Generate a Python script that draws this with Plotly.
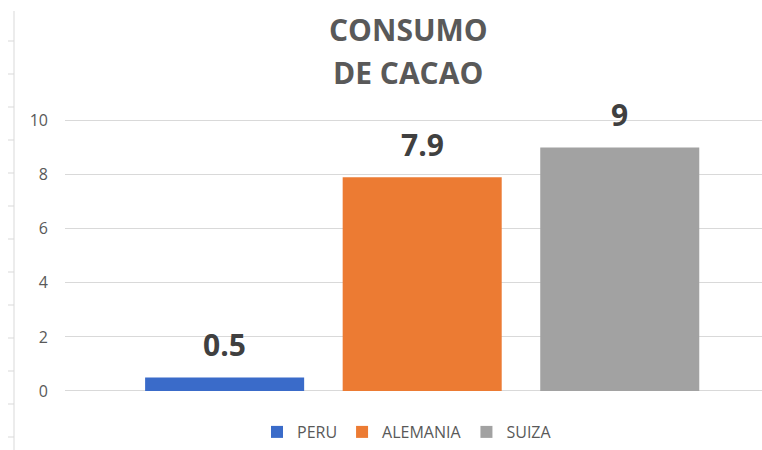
import plotly.graph_objects as go

# ---- data ----
categories = ["PERU", "ALEMANIA", "SUIZA"]
values = [0.5, 7.9, 9]
colors = ["#3A6BC9", "#EC7B33", "#A2A2A2"]
title_lines = ["CONSUMO", "DE CACAO"]
y_ticks = [0, 2, 4, 6, 8, 10]

W, H = 762, 450
ML, MR, MT, MB = 65, 0, 100, 50
PW, PH = W - ML - MR, H - MT - MB

def px_x(p):
    return (p - ML) / PW

def px_y(p):
    return (H - MB - p) / PH

fig = go.Figure()
for cat, val, col in zip(categories, values, colors):
    fig.add_trace(go.Bar(
        x=[cat], y=[val], name=cat, width=0.805,
        marker=dict(color=col, line=dict(width=0)),
        hoverinfo="x+y",
    ))

# data labels
for cat, val in zip(categories, values):
    fig.add_annotation(
        x=cat, y=val, text=f"<b>{val:g}</b>", showarrow=False,
        yanchor="middle", yshift=33,
        font=dict(family="Open Sans", size=30, color="#404040"),
    )

# title lines
for line, py in zip(title_lines, [29, 72]):
    fig.add_annotation(
        xref="paper", yref="paper", x=px_x(408), y=px_y(py),
        text=f"<b>{line}</b>", showarrow=False, yanchor="middle", xanchor="center",
        font=dict(family="Open Sans", size=30, color="#595959"),
    )

# left spreadsheet-style border decoration
shapes = [dict(type="line", xref="paper", yref="paper",
               x0=px_x(14), x1=px_x(14), y0=px_y(11), y1=px_y(450),
               line=dict(color="#D9D9D9", width=1))]
for k in range(13):
    py = 41 + 33 * k
    shapes.append(dict(type="line", xref="paper", yref="paper",
                       x0=px_x(8), x1=px_x(14), y0=px_y(py), y1=px_y(py),
                       line=dict(color="#D9D9D9", width=1)))

fig.update_layout(
    width=W, height=H,
    margin=dict(l=ML, r=MR, t=MT, b=MB),
    paper_bgcolor="white", plot_bgcolor="white",
    barmode="overlay",
    showlegend=True,
    legend=dict(orientation="h", x=px_x(407), xanchor="center", y=px_y(432), yanchor="middle",
                font=dict(family="Open Sans", size=16, color="#595959"),
                itemwidth=30, traceorder="normal"),
    xaxis=dict(range=[-0.808, 2.72], showticklabels=False, showgrid=False,
               zeroline=False, showline=False, fixedrange=True),
    yaxis=dict(range=[-0.333, 10.76], tickvals=y_ticks, showgrid=True,
               gridcolor="#D9D9D9", gridwidth=1, zeroline=True, zerolinecolor="#D9D9D9",
               zerolinewidth=1, showline=False, ticks="", ticklabelstandoff=16,
               tickfont=dict(family="Open Sans", size=16, color="#595959")),
    shapes=shapes,
    font=dict(family="Open Sans"),
)

fig.write_html("out.html", config={"displayModeBar": False},
               post_script="document.body.style.margin='0';")
